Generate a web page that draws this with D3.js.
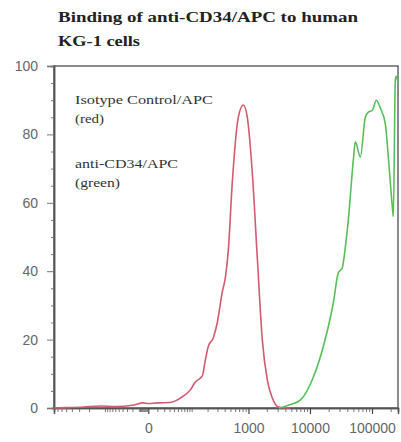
<!DOCTYPE html>
<html>
<head>
<meta charset="utf-8">
<script src="https://d3js.org/d3.v7.min.js"></script>
<style>
  body { margin: 0; background: #fff; }
</style>
</head>
<body>
<div id="chart"></div>
<script>
// fluorescence (APC) values and % of max for each histogram
var redX = [-800, -500, -250, -123, -60, -20, -5, 0, 10, 30, 57, 94, 118, 160, 182, 206, 253, 298, 364, 409, 460, 538, 678, 822, 957, 1157, 1397, 1687, 2035, 2457, 3075, 3995, 4813];
var redY = [0, 0.1, 0.3, 0.6, 0.4, 0.8, 1.5, 1.3, 1.5, 1.6, 2.9, 5.3, 7.6, 9.4, 14, 18, 20.5, 25, 34, 38, 46, 66, 85, 88.6, 85, 68.7, 44, 20, 8.2, 2.9, 0.3, 0, 0];

var greenX = [3075, 3707, 4813, 6980, 11320, 16415, 23780, 28630, 33250, 37150, 41550, 50000, 53850, 64850, 78050, 87280, 101230, 117450, 136240, 164000, 183200, 212500, 220550, 237500, 246500, 262144];
var greenY = [0, 0.3, 1, 2.3, 9, 18, 30.7, 39.5, 41, 47, 55, 72.5, 77.8, 73.4, 85, 86.5, 87, 90, 87.7, 83, 73.4, 58.8, 56, 96, 97, 95];

var xTickVals = [0, 1000, 10000, 100000];
var yTickVals = [0, 20, 40, 60, 80, 100];

var titleLines = ["Binding of anti-CD34/APC to human", "KG-1 cells"];
var legendLines = ["Isotype Control/APC", "(red)", "anti-CD34/APC", "(green)"];

var width = 401, height = 442;
var margin = {top: 66, right: 3, bottom: 34, left: 54};

var svg = d3.select("#chart").append("svg")
    .attr("width", width)
    .attr("height", height);

var x = d3.scaleSymlog().constant(25)
    .domain([-800, 262144])
    .range([margin.left, width - margin.right]);
var y = d3.scaleLinear()
    .domain([0, 100])
    .range([height - margin.bottom, margin.top]);

// minor ticks for the logicle-ish x axis
var xMinor = [];
[1, 10, 100].forEach(function (d) {
    for (var k = 1; k < 10; k++) {
        if (-k * d >= -800) xMinor.push(-k * d);
    }
});
[10, 100, 1000, 10000, 100000].forEach(function (d) {
    for (var k = 1; k < 10; k++) {
        if (k * d <= 262144 && xTickVals.indexOf(k * d) < 0) xMinor.push(k * d);
    }
});
var yMinor = d3.range(5, 100, 5).filter(function (d) { return d % 20 != 0; });

// frame
svg.append("rect")
    .attr("x", margin.left)
    .attr("y", margin.top)
    .attr("width", width - margin.right - margin.left)
    .attr("height", height - margin.bottom - margin.top)
    .attr("fill", "none")
    .attr("stroke", "#666")
    .attr("stroke-width", 1.5);

var xMinorAxis = svg.append("g")
    .attr("transform", "translate(0," + (height - margin.bottom) + ")")
    .call(d3.axisBottom(x).tickValues(xMinor).tickSize(4).tickFormat(""));
var xAxis = svg.append("g")
    .attr("transform", "translate(0," + (height - margin.bottom) + ")")
    .call(d3.axisBottom(x).tickValues(xTickVals).tickSize(6).tickPadding(9)
        .tickFormat(d3.format("d")));

var yMinorAxis = svg.append("g")
    .attr("transform", "translate(" + margin.left + ",0)")
    .call(d3.axisLeft(y).tickValues(yMinor).tickSize(3).tickFormat(""));
var yAxis = svg.append("g")
    .attr("transform", "translate(" + margin.left + ",0)")
    .call(d3.axisLeft(y).tickValues(yTickVals).tickSize(7).tickPadding(9));

[xMinorAxis, xAxis, yMinorAxis, yAxis].forEach(function (g) {
    g.select(".domain").attr("stroke", "#555").attr("stroke-width", 1.5);
    g.selectAll(".tick line").attr("stroke", "#777");
    g.selectAll(".tick text")
        .attr("fill", "#666")
        .attr("font-family", "Liberation Sans, Arial, sans-serif")
        .attr("font-size", "14px");
});
xAxis.selectAll(".tick line").attr("stroke", "#444").attr("stroke-width", 1.2);

// histograms
var line = d3.line()
    .x(function (d) { return x(d[0]); })
    .y(function (d) { return y(d[1]); })
    .curve(d3.curveMonotoneX);

svg.append("path")
    .datum(d3.zip(redX, redY))
    .attr("d", line)
    .attr("fill", "none")
    .attr("stroke", "#d45a70")
    .attr("stroke-width", 1.6);

svg.append("path")
    .datum(d3.zip(greenX, greenY))
    .attr("d", line)
    .attr("fill", "none")
    .attr("stroke", "#55c058")
    .attr("stroke-width", 1.6);

// title
var titleWidths = [300, 82];
svg.append("g").selectAll("text")
    .data(titleLines)
    .join("text")
    .attr("x", 58)
    .attr("y", function (d, i) { return 22 + i * 24; })
    .attr("font-family", "Liberation Serif, Times New Roman, serif")
    .attr("font-weight", "bold")
    .attr("font-size", "15px")
    .attr("fill", "#222")
    .attr("textLength", function (d, i) { return titleWidths[i]; })
    .attr("lengthAdjust", "spacingAndGlyphs")
    .text(function (d) { return d; });

// legend notes
var legendY = [104, 123, 168, 187];
var legendWidths = [138, 29, 103, 45];
svg.append("g").selectAll("text")
    .data(legendLines)
    .join("text")
    .attr("x", 75)
    .attr("y", function (d, i) { return legendY[i]; })
    .attr("font-family", "Liberation Serif, Times New Roman, serif")
    .attr("font-size", "13px")
    .attr("fill", "#333")
    .attr("textLength", function (d, i) { return legendWidths[i]; })
    .attr("lengthAdjust", "spacingAndGlyphs")
    .text(function (d) { return d; });
</script>
</body>
</html>
